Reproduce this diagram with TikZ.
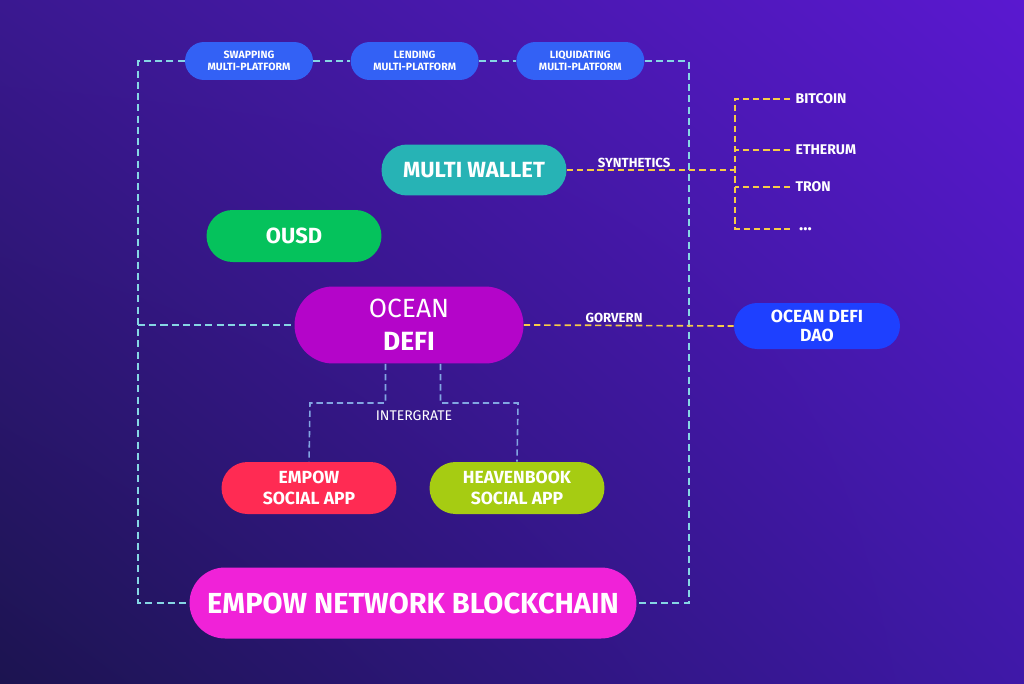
\documentclass[tikz,border=0pt]{standalone}
\usepackage{fontspec}
\setmainfont{Fira Sans}
\usepackage{xcolor}
\definecolor{BgTL}{HTML}{3A1890}
\definecolor{BgTR}{HTML}{5A18D0}
\definecolor{BgBL}{HTML}{1C1450}
\definecolor{BgBR}{HTML}{3F18A8}
\definecolor{PlatformBlue}{HTML}{3361F5}
\definecolor{WalletTeal}{HTML}{27B3B5}
\definecolor{OusdGreen}{HTML}{05C25C}
\definecolor{OceanMagenta}{HTML}{B405C9}
\definecolor{DaoBlue}{HTML}{1E40FF}
\definecolor{EmpowRed}{HTML}{FF2B53}
\definecolor{HeavenLime}{HTML}{A6CC12}
\definecolor{ChainPink}{HTML}{F022D8}
\definecolor{LoopCyan}{HTML}{86D6E4}
\definecolor{LinkYellow}{HTML}{F7CC45}
\definecolor{IntBlue}{HTML}{82A6E2}
\usepackage{tikz}
\usetikzlibrary{positioning,shadings}

\tikzset{
  pill/.style={rounded corners=#1, text=white, font=\bfseries, align=center, inner sep=0pt},
  loopline/.style={draw=LoopCyan, line width=1.2pt, dash pattern=on 4pt off 2.4pt},
  linkline/.style={draw=LinkYellow, line width=0.95pt, dash pattern=on 3.6pt off 2.2pt},
  intline/.style={draw=IntBlue, line width=0.9pt, dash pattern=on 3.6pt off 2.2pt},
  tag/.style={text=white, font=\fontsize{7.5}{8}\selectfont\bfseries, inner sep=1pt},
  coin/.style={tag, anchor=west, inner xsep=3pt, font=\fontsize{8}{9}\selectfont\bfseries}
}

\begin{document}
\begin{tikzpicture}[x=0.02cm, y=-0.02cm, node distance=0.74cm]
  % background
  \shade[upper left=BgTL, upper right=BgTR, lower left=BgBL, lower right=BgBR] (0,0) rectangle (1024,683);
  \useasboundingbox (0,0) rectangle (1024,683);

  % platforms on top
  \node[pill=0.38cm, fill=PlatformBlue, minimum width=2.56cm, minimum height=0.76cm,
        font=\fontsize{6}{7}\selectfont\bfseries] (swap) at (249,61) {SWAPPING\\MULTI-PLATFORM};
  \node[pill=0.38cm, fill=PlatformBlue, minimum width=2.56cm, minimum height=0.76cm,
        font=\fontsize{6}{7}\selectfont\bfseries, right=of swap] (lend) {LENDING\\MULTI-PLATFORM};
  \node[pill=0.38cm, fill=PlatformBlue, minimum width=2.56cm, minimum height=0.76cm,
        font=\fontsize{6}{7}\selectfont\bfseries, right=of lend] (liq) {LIQUIDATING\\MULTI-PLATFORM};

  % core nodes
  \node[pill=0.51cm, fill=WalletTeal, minimum width=3.7cm, minimum height=1.02cm,
        font=\fontsize{12.5}{14}\selectfont\bfseries] (wallet) at (474,170) {MULTI WALLET};
  \node[pill=0.52cm, fill=OusdGreen, minimum width=3.5cm, minimum height=1.04cm,
        font=\fontsize{12.5}{14}\selectfont\bfseries] (ousd) at (294,236) {OUSD};
  \node[pill=0.77cm, fill=OceanMagenta, minimum width=4.58cm, minimum height=1.54cm,
        font=\fontsize{15}{19}\selectfont] (ocean) at (409,325) {\mdseries OCEAN\\\bfseries DEFI};
  \node[pill=0.46cm, fill=DaoBlue, minimum width=3.32cm, minimum height=0.92cm,
        font=\fontsize{10}{11}\selectfont\bfseries] (dao) at (817,326) {OCEAN DEFI\\DAO};
  \node[pill=0.52cm, fill=EmpowRed, minimum width=3.5cm, minimum height=1.04cm,
        font=\fontsize{10}{11.5}\selectfont\bfseries] (empow) at (309,488) {EMPOW\\SOCIAL APP};
  \node[pill=0.52cm, fill=HeavenLime, minimum width=3.5cm, minimum height=1.04cm,
        font=\fontsize{10}{11.5}\selectfont\bfseries] (heaven) at (517,488) {HEAVENBOOK\\SOCIAL APP};
  \node[pill=0.71cm, fill=ChainPink, minimum width=8.94cm, minimum height=1.42cm,
        font=\fontsize{16.5}{20}\selectfont\bfseries] (chain) at (413,603) {EMPOW NETWORK BLOCKCHAIN};

  % coins
  \node[coin] (btc) at (790,99) {BITCOIN};
  \node[coin] (eth) at (790,150) {ETHERUM};
  \node[coin] (tron) at (790,187) {TRON};
  \node[coin, inner xsep=5pt, font=\fontsize{10}{10}\selectfont\bfseries] (more) at (790,229) {...};

  % outer loop
  \coordinate (loopbl) at (138,603);
  \coordinate (loopbr) at (689,603);
  \coordinate (loopml) at (138,325);
  \draw[loopline] (swap.west) -| (loopbl) -- (chain.west);
  \draw[loopline] (liq.east) -| (loopbr) -- (chain.east);
  \draw[loopline] (swap.east) -- (lend.west);
  \draw[loopline] (lend.east) -- (liq.west);
  \draw[loopline] (loopml) -- (ocean.west);

  % synthetics
  \coordinate (bus) at (735,170);
  \draw[linkline] (wallet.east) -- node[tag, above, pos=0.4] {SYNTHETICS} (bus);
  \draw[linkline] (btc.west) -| (bus |- more.west) -- (more.west);
  \draw[linkline] (eth.west) -- (eth.west -| bus);
  \draw[linkline] (tron.west) -- (tron.west -| bus);

  % governance
  \draw[linkline] (ocean.east) -- node[tag, above, pos=0.43] {GORVERN} (dao.west);

  % integrate
  \coordinate (intl) at (310,403);
  \coordinate (intr) at (518,403);
  \draw[intline] ([xshift=-0.47cm]ocean.south) |- (intl) -- (empow.north);
  \draw[intline] ([xshift=0.63cm]ocean.south) |- (intr) -- (heaven.north);
  \node[tag, font=\fontsize{8}{9}\selectfont] (intlabel) at (414,416) {INTERGRATE};
\end{tikzpicture}
\end{document}
